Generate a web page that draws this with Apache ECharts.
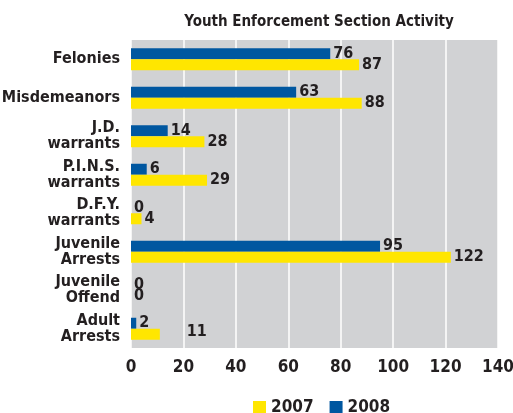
<!DOCTYPE html>
<html><head><meta charset="utf-8">
<script src="https://cdn.jsdelivr.net/npm/echarts@6/dist/echarts.min.js"></script>
<style>html,body{margin:0;padding:0;background:#fff}#c{width:513px;height:413px}</style>
</head><body><div id="c"></div>
<script>
const categories = ['Felonies','Misdemeanors','J.D.\nwarrants','P.I.N.S.\nwarrants','D.F.Y.\nwarrants','Juvenile\nArrests','Juvenile\nOffend','Adult\nArrests'];
const values2007 = [87, 88, 28, 29, 4, 122, 0, 11];
const values2008 = [76, 63, 14, 6, 0, 95, 0, 2];
const xTicks = [0, 20, 40, 60, 80, 100, 120, 140];

const FONT = '"DejaVu Sans Condensed","Liberation Sans Narrow",sans-serif';
const TXT = '#231f20';
const chart = echarts.init(document.getElementById('c'));
const lbl = {show:true, position:'right', distance:3, fontFamily:FONT, fontWeight:'bold', fontSize:16, color:TXT};
chart.setOption({
  animation:false,
  title:{text:'Youth Enforcement Section Activity', left:314, textAlign:'center', top:10,
    textStyle:{fontFamily:FONT, fontWeight:'bold', fontSize:15, color:TXT}},
  legend:{data:['2007','2008'], top:394, left:248, itemWidth:13, itemHeight:13, itemGap:16,
    textStyle:{fontFamily:FONT, fontWeight:'bold', fontSize:17, color:TXT}, icon:'rect'},
  grid:{left:131, right:15, top:40, bottom:65, show:true, backgroundColor:'#d1d2d4', borderWidth:0,
    outerBoundsMode:'none', containLabel:false},
  xAxis:{type:'value', min:xTicks[0], max:xTicks[xTicks.length-1], interval:20,
    axisLine:{show:false}, axisTick:{show:false},
    splitLine:{show:true, lineStyle:{color:'#ffffff', width:1.5}},
    axisLabel:{fontFamily:FONT, fontWeight:'bold', fontSize:17, color:TXT, margin:11}},
  yAxis:{type:'category', data:categories, inverse:true,
    axisLine:{show:false}, axisTick:{show:false},
    axisLabel:{fontFamily:FONT, fontWeight:'bold', fontSize:16, color:TXT, margin:11, lineHeight:16, align:'right'}},
  series:[
    {name:'2008', type:'bar', data:values2008, barWidth:11, barGap:'0%', itemStyle:{color:'#0057a0'}, label:lbl},
    {name:'2007', type:'bar', barWidth:11, barGap:'0%', itemStyle:{color:'#ffe600'}, label:lbl,
      data:values2007.map((v,i)=> categories[i]==='Adult\nArrests' ? {value:v, label:{offset:[24,-2]}} : v)}
  ]
});
</script></body></html>
